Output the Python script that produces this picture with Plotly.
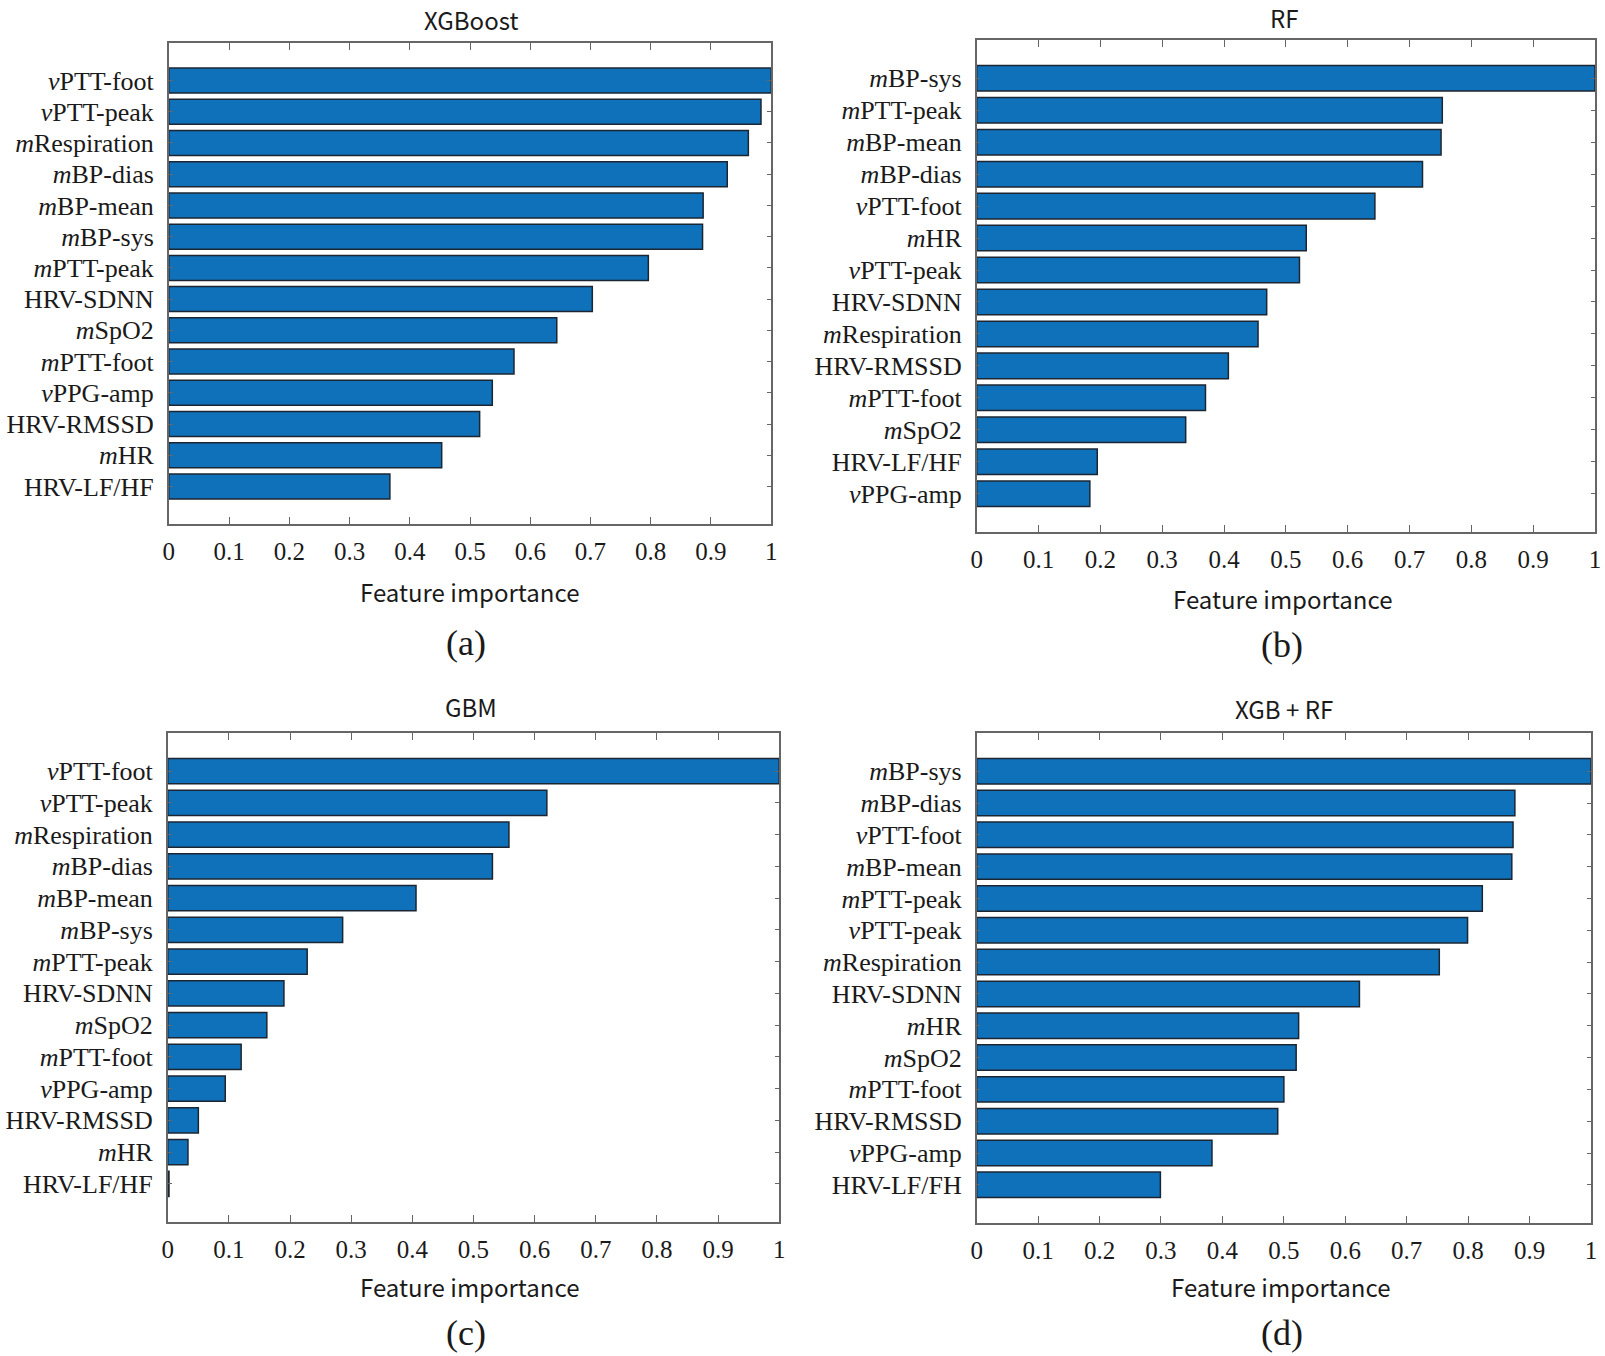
import plotly.graph_objects as go

W, H = 1605, 1356

# ---------------- data ----------------
xgb_features = ["vPTT-foot", "vPTT-peak", "mRespiration", "mBP-dias", "mBP-mean", "mBP-sys",
                "mPTT-peak", "HRV-SDNN", "mSpO2", "mPTT-foot", "vPPG-amp", "HRV-RMSSD",
                "mHR", "HRV-LF/HF"]
xgb_values = [1.0, 0.983, 0.962, 0.927, 0.887, 0.886, 0.796, 0.703, 0.644, 0.573, 0.537,
              0.516, 0.453, 0.367]

rf_features = ["mBP-sys", "mPTT-peak", "mBP-mean", "mBP-dias", "vPTT-foot", "mHR", "vPTT-peak",
               "HRV-SDNN", "mRespiration", "HRV-RMSSD", "mPTT-foot", "mSpO2", "HRV-LF/HF",
               "vPPG-amp"]
rf_values = [1.0, 0.753, 0.751, 0.721, 0.644, 0.533, 0.522, 0.469, 0.455, 0.407, 0.370,
             0.338, 0.195, 0.183]

gbm_features = ["vPTT-foot", "vPTT-peak", "mRespiration", "mBP-dias", "mBP-mean", "mBP-sys",
                "mPTT-peak", "HRV-SDNN", "mSpO2", "mPTT-foot", "vPPG-amp", "HRV-RMSSD",
                "mHR", "HRV-LF/HF"]
gbm_values = [1.0, 0.620, 0.558, 0.531, 0.406, 0.286, 0.228, 0.190, 0.162, 0.120, 0.094,
              0.050, 0.033, 0.002]

xgbrf_features = ["mBP-sys", "mBP-dias", "vPTT-foot", "mBP-mean", "mPTT-peak", "vPTT-peak",
                  "mRespiration", "HRV-SDNN", "mHR", "mSpO2", "mPTT-foot", "HRV-RMSSD",
                  "vPPG-amp", "HRV-LF/FH"]
xgbrf_values = [1.0, 0.876, 0.873, 0.871, 0.823, 0.799, 0.753, 0.623, 0.524, 0.520, 0.500,
                0.490, 0.383, 0.299]

panel_titles = ["XGBoost", "RF", "GBM", "XGB + RF"]
panel_letters = ["(a)", "(b)", "(c)", "(d)"]
x_label = "Feature importance"
x_ticks = [0, 0.1, 0.2, 0.3, 0.4, 0.5, 0.6, 0.7, 0.8, 0.9, 1]
x_ticklabels = ["0", "0.1", "0.2", "0.3", "0.4", "0.5", "0.6", "0.7", "0.8", "0.9", "1"]

# ---------------- layout (pixel boxes) ----------------
# (left, right, top, bottom) in pixels
boxes = [(164, 771, 43, 524), (978, 1601, 40, 532), (163, 779, 733, 1222), (978, 1597, 733, 1223)]
title_pos = [(469, 19), (1288, 17), (469, 706), (1288, 708)]
xlabel_pos = [(467, 592), (1286, 599), (467, 1286), (1284, 1286)]
letter_pos = [(463, 643), (1286, 645), (463, 1333), (1286, 1333)]

BAR = "#0f71b9"
EDGE = "#1c2633"
AXC = "#666666"
SERIF = "Liberation Serif"
SANS = "Noto Sans CJK KR"


def fmt(label):
    if label[0] in ("v", "m"):
        return "<i>" + label[0] + "</i>" + label[1:]
    return label


def px(x):
    return x / W


def py(y):
    return 1 - y / H


fig = go.Figure()
data = [(xgb_features, xgb_values), (rf_features, rf_values),
        (gbm_features, gbm_values), (xgbrf_features, xgbrf_values)]
annotations = []
for i, ((feats, vals), (l, r, t, b)) in enumerate(zip(data, boxes)):
    n = i + 1
    xa = "x" if n == 1 else f"x{n}"
    ya = "y" if n == 1 else f"y{n}"
    fig.add_trace(go.Bar(
        x=vals, y=feats, orientation="h", width=0.8,
        marker=dict(color=BAR, line=dict(color=EDGE, width=1.5)),
        xaxis=xa, yaxis=ya, showlegend=False, hoverinfo="x+y"))
    k = "" if n == 1 else str(n)
    fig.layout["xaxis" + k] = dict(
        domain=[px(l), px(r)], anchor=ya, range=[0, 1],
        tickvals=x_ticks, ticktext=x_ticklabels,
        ticks="inside", ticklen=7, tickwidth=1.2, tickcolor=AXC,
        showline=True, linecolor=AXC, linewidth=1.5, mirror="ticks",
        showgrid=False, zeroline=False,
        tickfont=dict(family=SERIF, size=25, color="#1a1a1a"),
        ticklabelstandoff=4, fixedrange=True)
    fig.layout["yaxis" + k] = dict(
        domain=[py(b), py(t)], anchor=xa, type="category",
        categoryorder="array", categoryarray=feats,
        range=[len(feats) - 1 + 1.2, -1.2],
        tickvals=feats, ticktext=[fmt(f) for f in feats],
        ticks="inside", ticklen=4, tickwidth=1.2, tickcolor=AXC,
        showline=True, linecolor=AXC, linewidth=1.5, mirror="ticks",
        showgrid=False, zeroline=False,
        tickfont=dict(family=SERIF, size=26, color="#1a1a1a"),
        ticklabelstandoff=8, fixedrange=True)
    annotations.append(dict(text=panel_titles[i], x=px(title_pos[i][0]), y=py(title_pos[i][1]),
                            xref="paper", yref="paper", showarrow=False,
                            xanchor="center", yanchor="middle",
                            font=dict(family=SANS, size=24, color="#1a1a1a")))
    annotations.append(dict(text=x_label, x=px(xlabel_pos[i][0]), y=py(xlabel_pos[i][1]),
                            xref="paper", yref="paper", showarrow=False,
                            xanchor="center", yanchor="middle",
                            font=dict(family=SANS, size=24, color="#1a1a1a")))
    annotations.append(dict(text=panel_letters[i], x=px(letter_pos[i][0]), y=py(letter_pos[i][1]),
                            xref="paper", yref="paper", showarrow=False,
                            xanchor="center", yanchor="middle",
                            font=dict(family=SERIF, size=36, color="#1a1a1a")))

fig.update_layout(width=W, height=H, margin=dict(l=0, r=0, t=0, b=0),
                  paper_bgcolor="white", plot_bgcolor="white",
                  annotations=annotations, bargap=0.2)

fig.write_html("out.html", config={"displayModeBar": False},
               post_script="document.body.style.margin='0';document.body.style.padding='0';"
                           "document.documentElement.style.overflow='hidden';")
